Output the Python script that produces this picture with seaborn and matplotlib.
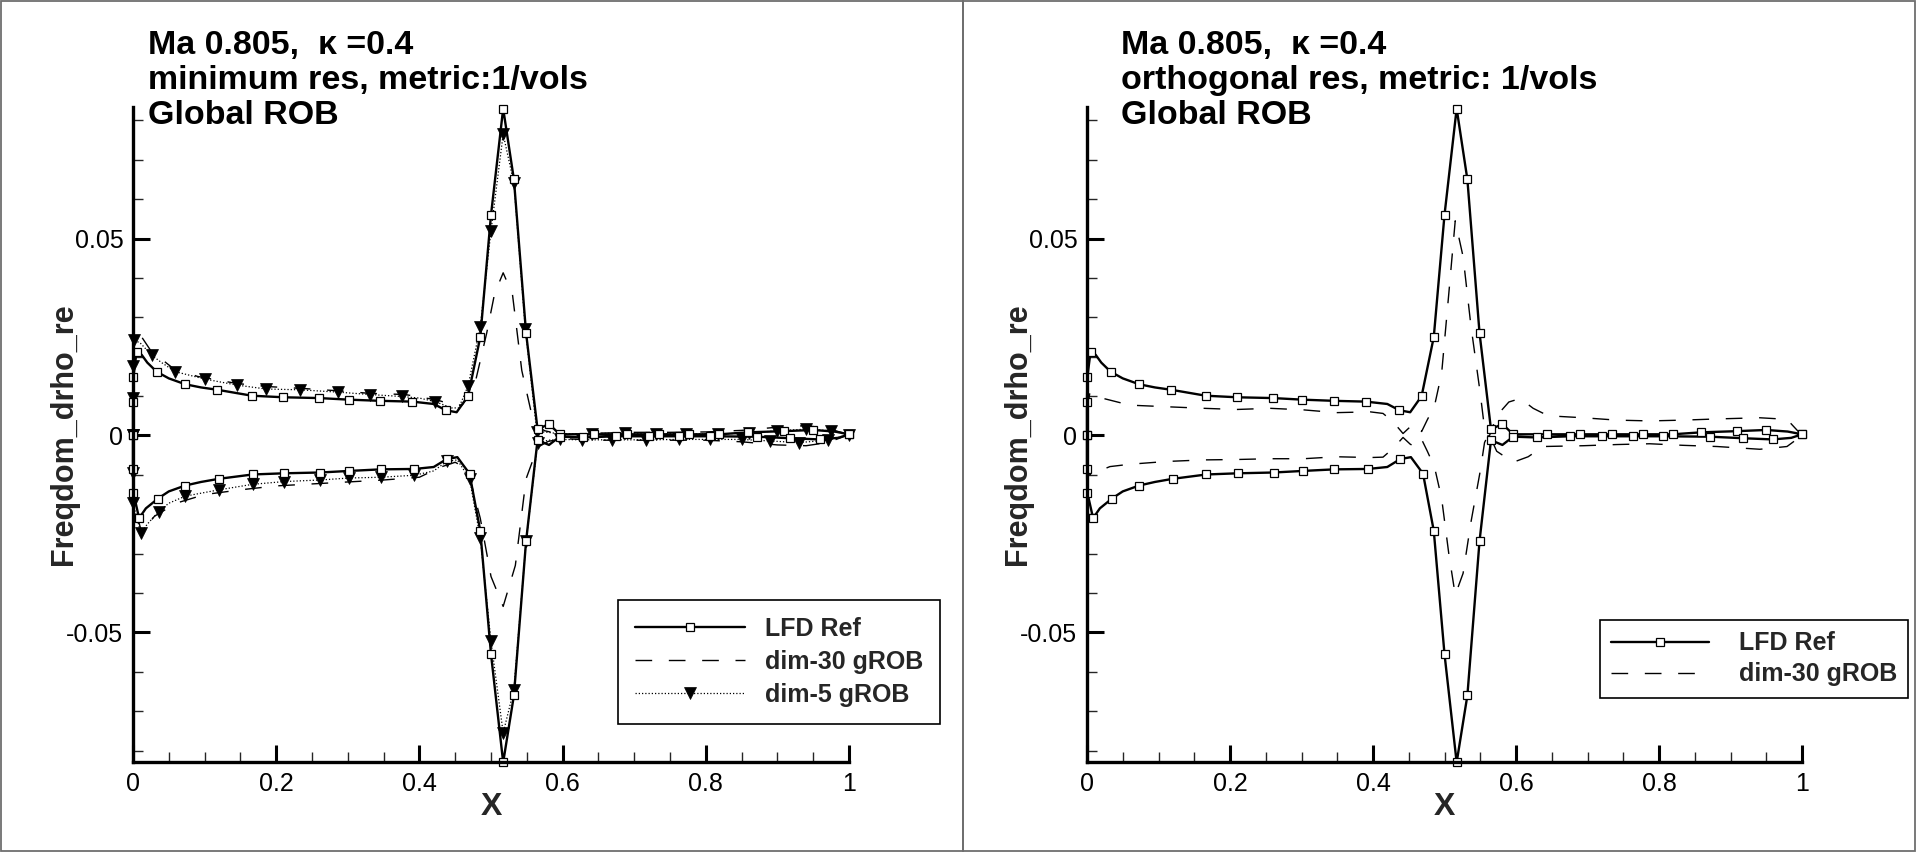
import matplotlib
matplotlib.use("Agg")
import matplotlib.pyplot as plt
import seaborn as sns
from matplotlib.lines import Line2D
from matplotlib.patches import Rectangle
from matplotlib.ticker import MultipleLocator, FixedLocator, FixedFormatter

# ---------------- data ----------------
# LFD reference solution: upper / lower surface, leading edge -> trailing edge
# *_m flags mark the points that carry a symbol
lfd_up_x = [0.0, 0.0, 0.0005, 0.005, 0.012, 0.020, 0.033, 0.050, 0.073, 0.095,
            0.118, 0.166, 0.210, 0.260, 0.301, 0.345, 0.390, 0.420, 0.437, 0.452,
            0.468, 0.485, 0.500, 0.517, 0.532, 0.549, 0.565, 0.581, 0.596, 0.644,
            0.690, 0.734, 0.777, 0.819, 0.859, 0.909, 0.950, 0.980, 1.0]
lfd_up_y = [0.0, 0.0084, 0.0149, 0.0213, 0.0205, 0.0185, 0.0162, 0.0145, 0.0130, 0.0122,
            0.0116, 0.0101, 0.0097, 0.0095, 0.0091, 0.0088, 0.0086, 0.0080, 0.0064, 0.0059,
            0.0100, 0.0250, 0.0560, 0.0830, 0.0650, 0.0260, 0.0016, 0.0029, 0.0003, 0.0003,
            0.0003, 0.0003, 0.0003, 0.0003, 0.0008, 0.0011, 0.0014, 0.0010, 0.0003]
lfd_up_m = [1, 1, 1, 1, 0, 0, 1, 0, 1, 0,
            1, 1, 1, 1, 1, 1, 1, 0, 1, 0,
            1, 1, 1, 1, 1, 1, 1, 1, 1, 1,
            1, 1, 1, 1, 1, 1, 1, 0, 1]
lfd_lo_x = [0.0, 0.0, 0.0005, 0.0085, 0.018, 0.035, 0.050, 0.073, 0.095, 0.120,
            0.167, 0.211, 0.261, 0.302, 0.346, 0.393, 0.420, 0.438, 0.453, 0.470,
            0.485, 0.500, 0.517, 0.532, 0.549, 0.565, 0.581, 0.596, 0.629, 0.675,
            0.720, 0.763, 0.806, 0.871, 0.918, 0.959, 0.985, 1.0]
lfd_lo_y = [0.0, -0.0085, -0.0145, -0.0210, -0.0185, -0.0160, -0.0142, -0.0127, -0.0118, -0.0110,
            -0.0099, -0.0096, -0.0094, -0.0090, -0.0086, -0.0085, -0.0080, -0.0060, -0.0055, -0.0097,
            -0.0242, -0.0555, -0.0830, -0.0660, -0.0268, -0.0012, -0.0024, -0.0003, -0.0005, -0.0002,
            -0.0002, -0.0002, -0.0002, -0.0003, -0.0007, -0.0010, -0.0006, 0.0003]
lfd_lo_m = [1, 1, 1, 1, 0, 1, 0, 1, 0, 1,
            1, 1, 1, 1, 1, 1, 0, 1, 0, 1,
            1, 1, 1, 1, 1, 1, 0, 1, 1, 1,
            1, 1, 1, 1, 1, 1, 0, 1]

# dim-5 gROB (left panel, minimum residual)
d5_up_x = [0.0, 0.0, 0.0, 0.0014, 0.010, 0.026, 0.040, 0.059, 0.101, 0.145,
           0.186, 0.233, 0.287, 0.331, 0.375, 0.400, 0.422, 0.445, 0.455, 0.468,
           0.485, 0.500, 0.517, 0.532, 0.548, 0.564, 0.580, 0.596, 0.641, 0.687,
           0.731, 0.773, 0.817, 0.860, 0.900, 0.940, 0.975, 1.0]
d5_up_y = [0.0, 0.0096, 0.0176, 0.0242, 0.0235, 0.0204, 0.0185, 0.0162, 0.0143, 0.0128,
           0.0118, 0.0116, 0.0110, 0.0104, 0.0099, 0.0095, 0.0086, 0.0070, 0.0070, 0.0126,
           0.0276, 0.0520, 0.0765, 0.0640, 0.0270, 0.0010, 0.0008, 0.0004, 0.0005, 0.0006,
           0.0005, 0.0004, 0.0004, 0.0006, 0.0012, 0.0016, 0.0012, 0.0002]
d5_up_m = [1, 1, 1, 1, 0, 1, 0, 1, 1, 1,
           1, 1, 1, 1, 1, 0, 1, 0, 0, 1,
           1, 1, 1, 1, 1, 1, 0, 0, 1, 1,
           1, 1, 1, 1, 1, 1, 1, 1]
d5_lo_x = [0.0, 0.0, 0.0, 0.011, 0.020, 0.036, 0.050, 0.073, 0.120, 0.167,
           0.211, 0.261, 0.302, 0.346, 0.393, 0.420, 0.438, 0.453, 0.470, 0.485,
           0.500, 0.517, 0.532, 0.549, 0.565, 0.580, 0.596, 0.627, 0.669, 0.717,
           0.762, 0.806, 0.850, 0.890, 0.930, 0.970, 1.0]
d5_lo_y = [0.0, -0.0096, -0.0172, -0.0248, -0.0225, -0.0193, -0.0172, -0.0154, -0.0138, -0.0124,
           -0.0117, -0.0113, -0.0108, -0.0106, -0.0101, -0.0090, -0.0066, -0.0062, -0.0110, -0.0260,
           -0.0523, -0.0755, -0.0645, -0.0269, -0.0020, -0.0012, -0.0010, -0.0011, -0.0011, -0.0011,
           -0.0010, -0.0010, -0.0010, -0.0014, -0.0018, -0.0012, 0.0002]
d5_lo_m = [1, 1, 1, 1, 0, 1, 0, 1, 1, 1,
           1, 1, 1, 1, 1, 0, 1, 0, 1, 1,
           1, 1, 1, 1, 1, 0, 1, 1, 1, 1,
           1, 1, 1, 1, 1, 1, 0]

# dim-30 gROB, minimum residual (left panel)
d30min_up_x = [0.0, 0.0, 0.002, 0.011, 0.025, 0.055, 0.090, 0.145, 0.190, 0.240,
               0.290, 0.330, 0.380, 0.425, 0.450, 0.460, 0.470, 0.478, 0.494, 0.505,
               0.517, 0.530, 0.543, 0.560, 0.575, 0.600, 0.650, 0.700, 0.750, 0.800,
               0.850, 0.900, 0.940, 0.970, 1.0]
d30min_up_y = [0.0, 0.0100, 0.0190, 0.0253, 0.0215, 0.0172, 0.0150, 0.0132, 0.0124, 0.0119,
               0.0113, 0.0107, 0.0104, 0.0090, 0.0076, 0.0078, 0.0105, 0.0135, 0.0260, 0.0360,
               0.0413, 0.0358, 0.0165, 0.0028, 0.0012, 0.0002, 0.0006, 0.0008, 0.0008, 0.0009,
               0.0013, 0.0021, 0.0025, 0.0018, 0.0002]
d30min_lo_x = [0.0, 0.0, 0.002, 0.012, 0.030, 0.060, 0.100, 0.150, 0.200, 0.250,
               0.300, 0.350, 0.400, 0.430, 0.450, 0.462, 0.472, 0.485, 0.500, 0.517,
               0.534, 0.549, 0.565, 0.580, 0.600, 0.650, 0.700, 0.750, 0.800, 0.850,
               0.900, 0.940, 0.970, 1.0]
d30min_lo_y = [0.0, -0.0100, -0.0180, -0.0245, -0.0205, -0.0172, -0.0150, -0.0138, -0.0128, -0.0123,
               -0.0118, -0.0113, -0.0106, -0.0080, -0.0068, -0.0080, -0.0120, -0.0210, -0.0358, -0.0434,
               -0.0330, -0.0110, -0.0030, -0.0015, -0.0008, -0.0012, -0.0012, -0.0012, -0.0012, -0.0016,
               -0.0024, -0.0026, -0.0018, 0.0002]

# dim-30 gROB, orthogonal residual (right panel)
d30ort_up_x = [0.0, 0.0, 0.004, 0.023, 0.060, 0.111, 0.163, 0.209, 0.256, 0.303,
               0.349, 0.396, 0.414, 0.428, 0.442, 0.452, 0.460, 0.468, 0.476, 0.486,
               0.496, 0.506, 0.515, 0.526, 0.537, 0.550, 0.556, 0.562, 0.573, 0.590,
               0.606, 0.624, 0.645, 0.694, 0.741, 0.787, 0.834, 0.881, 0.941, 0.979, 1.0]
d30ort_up_y = [0.0, 0.0060, 0.0109, 0.0094, 0.0077, 0.0073, 0.0069, 0.0066, 0.0069, 0.0065,
               0.0058, 0.0060, 0.0056, 0.0035, 0.0005, 0.0022, 0.0030, 0.0010, 0.0040, 0.0075,
               0.0158, 0.0360, 0.0545, 0.0454, 0.0278, 0.0107, 0.0018, -0.0005, 0.0050, 0.0085,
               0.0094, 0.0069, 0.0050, 0.0045, 0.0039, 0.0037, 0.0039, 0.0042, 0.0045, 0.0041, 0.0]
d30ort_lo_x = [0.0, 0.0, 0.004, 0.032, 0.060, 0.111, 0.163, 0.209, 0.256, 0.303,
               0.349, 0.396, 0.414, 0.428, 0.442, 0.452, 0.460, 0.468, 0.476, 0.486,
               0.496, 0.506, 0.515, 0.526, 0.537, 0.550, 0.556, 0.562, 0.573, 0.596,
               0.617, 0.638, 0.694, 0.741, 0.787, 0.834, 0.881, 0.941, 0.979, 1.0]
d30ort_lo_y = [0.0, -0.0060, -0.0100, -0.0079, -0.0073, -0.0066, -0.0062, -0.0061, -0.0059, -0.0059,
               -0.0054, -0.0056, -0.0055, -0.0033, -0.0005, -0.0022, -0.0030, -0.0010, -0.0040, -0.0080,
               -0.0160, -0.0300, -0.0405, -0.0350, -0.0220, -0.0090, -0.0018, 0.0005, -0.0040, -0.0068,
               -0.0054, -0.0028, -0.0026, -0.0023, -0.0021, -0.0025, -0.0028, -0.0035, -0.0028, 0.0]

x_ticks = [0.0, 0.2, 0.4, 0.6, 0.8, 1.0]
x_tick_labels = ["0", "0.2", "0.4", "0.6", "0.8", "1"]
y_ticks = [-0.05, 0.0, 0.05]
y_tick_labels = ["-0.05", "0", "0.05"]
y_limits = (-0.0829, 0.0834)

titles_left = ["Ma 0.805,  \u03ba =0.4", "minimum res, metric:1/vols", "Global ROB"]
titles_right = ["Ma 0.805,  \u03ba =0.4", "orthogonal res, metric: 1/vols", "Global ROB"]
legend_left = ["LFD Ref", "dim-30 gROB", "dim-5 gROB"]
legend_right = ["LFD Ref", "dim-30 gROB"]

# ---------------- style ----------------
sns.set_style("white")
plt.rcParams["font.family"] = ["Liberation Sans", "DejaVu Sans"]
plt.rcParams["axes.unicode_minus"] = False

W, H = 1916, 852
fig = plt.figure(figsize=(W / 100, H / 100), dpi=100)
fig.patch.set_facecolor("white")


def closed(ux, uy, lx, ly, um=None, lm=None):
    x = list(reversed(ux)) + list(lx)
    y = list(reversed(uy)) + list(ly)
    if um is None:
        return x, y, None
    m = list(reversed(um)) + list(lm)
    idx = [i for i, f in enumerate(m) if f and i < len(x)]
    return x, y, idx


LFD_STYLE = dict(color="black", lw=1.7, linestyle="-", marker="s", markersize=5.2,
                 mfc="white", mec="black", mew=0.9)
D30_STYLE = dict(color="black", lw=1.0, linestyle=(0, (12, 12)))
D5_STYLE = dict(color="black", lw=0.9, linestyle=(0, (1, 1.6)), marker="v", markersize=9,
                mfc="black", mec="black", mew=0.5)


def draw(ax, x, y, idx, style):
    kws = dict(style)
    if idx is not None:
        kws["markevery"] = idx
    sns.lineplot(x=x, y=y, sort=False, estimator=None, ax=ax, legend=False,
                 clip_on=False, **kws)


def style_axes(ax):
    ax.set_xlim(0, 1)
    ax.set_ylim(*y_limits)
    for s in ("top", "right"):
        ax.spines[s].set_visible(False)
    for s in ("left", "bottom"):
        ax.spines[s].set_visible(True)
        ax.spines[s].set_linewidth(2.4)
        ax.spines[s].set_color("black")
    ax.xaxis.set_major_locator(FixedLocator(x_ticks))
    ax.xaxis.set_major_formatter(FixedFormatter(x_tick_labels))
    ax.yaxis.set_major_locator(FixedLocator(y_ticks))
    ax.yaxis.set_major_formatter(FixedFormatter(y_tick_labels))
    ax.xaxis.set_minor_locator(MultipleLocator(0.05))
    ax.yaxis.set_minor_locator(MultipleLocator(0.01))
    ax.tick_params(which="major", direction="in", length=12, width=2.2, labelsize=18,
                   pad=7, colors="black", bottom=True, left=True, top=False, right=False)
    ax.tick_params(which="minor", direction="in", length=7, width=1.0,
                   bottom=True, left=True, top=False, right=False)
    ax.grid(False)
    ax.set_facecolor("white")
    ax.set_xlabel("X", fontsize=23, fontweight="bold")
    ax.set_ylabel("Freqdom_drho_re", fontsize=22, fontweight="bold")
    ax.xaxis.set_label_coords(0.5, (762 - 807) / 655)
    ax.xaxis.label.set_va("center")
    ax.yaxis.set_label_coords((64 - 133) / 716, 0.5)
    ax.yaxis.label.set_va("center")


axL = fig.add_axes([133 / W, 1 - 762 / H, 716 / W, 655 / H])
axR = fig.add_axes([1087 / W, 1 - 762 / H, 715 / W, 655 / H])

lfd = closed(lfd_up_x, lfd_up_y, lfd_lo_x, lfd_lo_y, lfd_up_m, lfd_lo_m)
d5 = closed(d5_up_x, d5_up_y, d5_lo_x, d5_lo_y, d5_up_m, d5_lo_m)
d30min = closed(d30min_up_x, d30min_up_y, d30min_lo_x, d30min_lo_y)
d30ort = closed(d30ort_up_x, d30ort_up_y, d30ort_lo_x, d30ort_lo_y)

# left panel
draw(axL, *d30min, D30_STYLE)
draw(axL, *d5, D5_STYLE)
draw(axL, *lfd, LFD_STYLE)
# right panel
draw(axR, *d30ort, D30_STYLE)
draw(axR, *lfd, LFD_STYLE)

for ax in (axL, axR):
    style_axes(ax)

# titles
for x0, lines in ((148, titles_left), (1121, titles_right)):
    for base, txt in zip((54, 89, 124), lines):
        fig.text(x0 / W, 1 - base / H, txt, fontsize=24.5, fontweight="bold",
                 ha="left", va="baseline", color="black")


def handle(style):
    return Line2D([0], [0], **dict(style))


hL = [handle(LFD_STYLE), handle(D30_STYLE), handle(D5_STYLE)]
legL = axL.legend(hL, legend_left, loc="upper left", bbox_to_anchor=(618 / W, 1 - 600 / H),
                  bbox_transform=fig.transFigure, borderaxespad=0, frameon=True,
                  fancybox=False, framealpha=1, edgecolor="black", numpoints=1,
                  prop={"weight": "bold", "size": 18}, handlelength=4.4, handletextpad=0.8,
                  borderpad=0.68, labelspacing=0.36)
legL.get_frame().set_linewidth(1.2)

hR = [handle(LFD_STYLE), handle(D30_STYLE)]
legR = axR.legend(hR, legend_right, loc="upper left", bbox_to_anchor=(1600 / W, 1 - 620 / H),
                  bbox_transform=fig.transFigure, borderaxespad=0, frameon=True,
                  fancybox=False, framealpha=1, edgecolor="black", numpoints=1,
                  prop={"weight": "bold", "size": 18}, handlelength=3.9, handletextpad=1.2,
                  borderpad=0.45, labelspacing=0.28)
legR.get_frame().set_linewidth(1.2)

# panel frames
for (x0, x1) in ((0.75, 962.5), (962.5, 1915.25)):
    fig.add_artist(Rectangle((x0 / W, 0.75 / H), (x1 - x0) / W, (H - 1.5) / H,
                             transform=fig.transFigure, fill=False,
                             edgecolor="#6e6e6e", lw=1.3))

fig.savefig("out.png", dpi=100, facecolor="white")
